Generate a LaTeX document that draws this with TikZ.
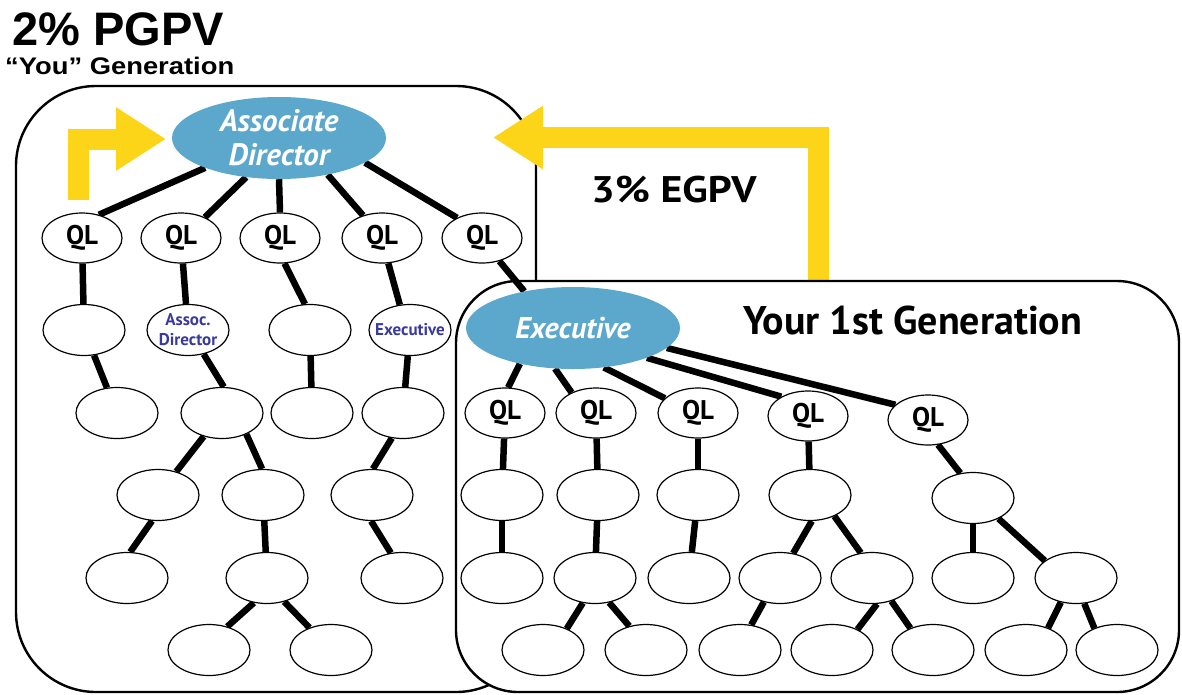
\documentclass[tikz,border=0pt]{standalone}
\usepackage{fontspec}
\setmainfont{Liberation Sans}
\newfontfamily\labelfont{PT Sans}
\usetikzlibrary{shapes.geometric,arrows.meta}
\definecolor{bossblue}{RGB}{92,168,204}
\definecolor{arrowgold}{RGB}{252,212,24}
\definecolor{rolepurple}{RGB}{58,58,158}
\pgfdeclarelayer{panels}
\pgfdeclarelayer{links}
\pgfsetlayers{panels,links,main}

\begin{document}
\begin{tikzpicture}[x=1pt,y=-1pt,
  member/.style={ellipse, draw, line width=1.2pt, fill=white,
    minimum width=82pt, minimum height=51pt, inner sep=0pt},
  ql/.style={member, minimum width=80pt, minimum height=50pt,
    font=\labelfont\bfseries\fontsize{27}{29}\selectfont},
  role/.style={member, text=rolepurple, align=center, inner xsep=-12pt, inner ysep=-10pt,
    font=\labelfont\bfseries\fontsize{17}{20}\selectfont},
  boss/.style={ellipse, fill=bossblue, text=white, align=center,
    inner xsep=-4pt, inner ysep=-10pt, minimum width=214pt, minimum height=82pt,
    font=\labelfont\bfseries\itshape\fontsize{31}{34}\selectfont},
  link/.style={line width=6.5pt},
  gold/.style={draw=arrowgold, line width=21pt, -{Triangle[width=60pt,length=50pt]}},
  panel/.style={draw, line width=2.4pt},
  caption/.style={anchor=base west, inner sep=0pt},
]
\useasboundingbox (0,0) rectangle (1182,694);

% titles
\node[caption, font=\bfseries\fontsize{47}{50}\selectfont] (pgpv) at (12,45) {2\% PGPV};
\node[caption, font=\bfseries\fontsize{24}{28}\selectfont] (yougen) at (5,74) {\scalebox{1.14}[1]{“You” Generation}};
\node[caption, font=\labelfont\bfseries\fontsize{37}{40}\selectfont] (egpv) at (591,202) {\scalebox{1.13}[1]{3\% EGPV}};
\node[caption, font=\labelfont\bfseries\fontsize{40}{44}\selectfont] (firstgen) at (743,334) {Your 1st Generation};

% "You" generation
\node[boss] (ad) at (279,138) {Associate\\Director};
\node[ql] (q1) at (82,238) {QL};
\node[ql] (q2) at (181,238) {QL};
\node[ql] (q3) at (280,238) {QL};
\node[ql] (q4) at (382,238) {QL};
\node[ql] (q5) at (482,238) {QL};

\node[member] (a1) at (84,330) {};
\node[role]   (a2) at (188,330) {Assoc.\\Director};
\node[member] (a3) at (310,330) {};
\node[role]   (a4) at (410,330) {Executive};

\node[member] (b1) at (117,413) {};
\node[member] (b2) at (222,413) {};
\node[member] (b3) at (312,413) {};
\node[member] (b4) at (403,413) {};

\node[member] (c1) at (158,495) {};
\node[member] (c2) at (263,495) {};
\node[member] (c3) at (372,495) {};

\node[member] (d1) at (127,578) {};
\node[member] (d2) at (267,578) {};
\node[member] (d3) at (402,578) {};

\node[member] (e1) at (209,650) {};
\node[member] (e2) at (331,650) {};

% 1st generation
\node[boss, font=\labelfont\bfseries\itshape\fontsize{30}{32}\selectfont] (ex) at (573,328) {Executive};
\node[ql] (r1) at (505,413) {QL};
\node[ql] (r2) at (596,413) {QL};
\node[ql] (r3) at (698,413) {QL};
\node[ql] (r4) at (808,416) {QL};
\node[ql] (r5) at (928,420) {QL};

\node[member] (s1) at (502,495) {};
\node[member] (s2) at (598,495) {};
\node[member] (s3) at (698,495) {};
\node[member] (s4) at (810,495) {};
\node[member] (s5) at (973,498) {};

\node[member] (t1) at (502,578) {};
\node[member] (t2) at (595,578) {};
\node[member] (t3) at (689,578) {};
\node[member] (t4) at (780,578) {};
\node[member] (t5) at (872,578) {};
\node[member] (t6) at (973,578) {};
\node[member] (t7) at (1076,578) {};

\node[member] (u1) at (543,650) {};
\node[member] (u2) at (646,650) {};
\node[member] (u3) at (740,650) {};
\node[member] (u4) at (832,650) {};
\node[member] (u5) at (933,650) {};
\node[member] (u6) at (1026,650) {};
\node[member] (u7) at (1117,650) {};

\begin{pgfonlayer}{links}
  \draw[link] (ad.202) -- (q1.54);
  \draw[link] (ad.230) -- (q2.41);
  \draw[link] (ad.270) -- (q3.90);
  \draw[link] (ad.323) -- (q4.130);
  \draw[link] (ad.344) -- (q5.141);
  \draw[link] (q1) -- (a1);
  \draw[link] (q2) -- (a2);
  \draw[link] (q3.280) -- (a3.101);
  \draw[link] (q4.284) -- (a4.112);
  \draw[link] (q5.307) -- (ex.143);
  \draw[link] (a1) -- (b1);
  \draw[link] (a2.303) -- (b2.86);
  \draw[link] (a3) -- (b3);
  \draw[link] (a4) -- (b4);
  \draw[link] (b2) -- (c1);
  \draw[link] (b2.319) -- (c2.92);
  \draw[link] (b4.246) -- (c3.88);
  \draw[link] (c1.257) -- (d1.83);
  \draw[link] (c2) -- (d2);
  \draw[link] (c3.268) -- (d3.114);
  \draw[link] (d2.242) -- (e1.52);
  \draw[link] (d2.306) -- (e2.134);

  \draw[link] (ex.214) -- (r1.83);
  \draw[link] (ex.246) -- (r2.140);
  \draw[link] (ex.308) -- (r3.156);
  \draw[link] (ex.338) -- (r4.144);
  \draw[link] (ex.348) -- (r5.155);
  \draw[link] (r1) -- (s1);
  \draw[link] (r2) -- (s2);
  \draw[link] (r3) -- (s3);
  \draw[link] (r4) -- (s4);
  \draw[link] (r5.292) -- (s5.117);
  \draw[link] (s1) -- (t1);
  \draw[link] (s2) -- (t2);
  \draw[link] (s3) -- (t3);
  \draw[link] (s4.274) -- (t4.62);
  \draw[link] (s4.319) -- (t5.114);
  \draw[link] (s5) -- (t6);
  \draw[link] (s5.321) -- (t7.151);
  \draw[link] (t2.244) -- (u1.42);
  \draw[link] (t2.300) -- (u2.125);
  \draw[link] (t4.236) -- (u3.66);
  \draw[link] (t5.281) -- (u4.39);
  \draw[link] (t5.310) -- (u5.136);
  \draw[link] (t7.238) -- (u6.45);
  \draw[link] (t7.288) -- (u7.136);
\end{pgfonlayer}

\begin{pgfonlayer}{panels}
  % "You" generation panel
  \draw[panel, rounded corners=80pt] (16,86) rectangle (536,692);
  % volume arrows
  \coordinate (lsrc) at (78.5,200);
  \coordinate (ltip) at (166,139);
  \draw[gold] (lsrc) |- (ltip);
  \coordinate (rsrc) at (818.5,282);
  \coordinate (rtip) at (493,137.5);
  \draw[gold] (rsrc) |- (rtip);
  % 1st generation panel
  \draw[panel, fill=white, rounded corners=62pt] (456,281) rectangle (1179,692);
\end{pgfonlayer}
\end{tikzpicture}
\end{document}
